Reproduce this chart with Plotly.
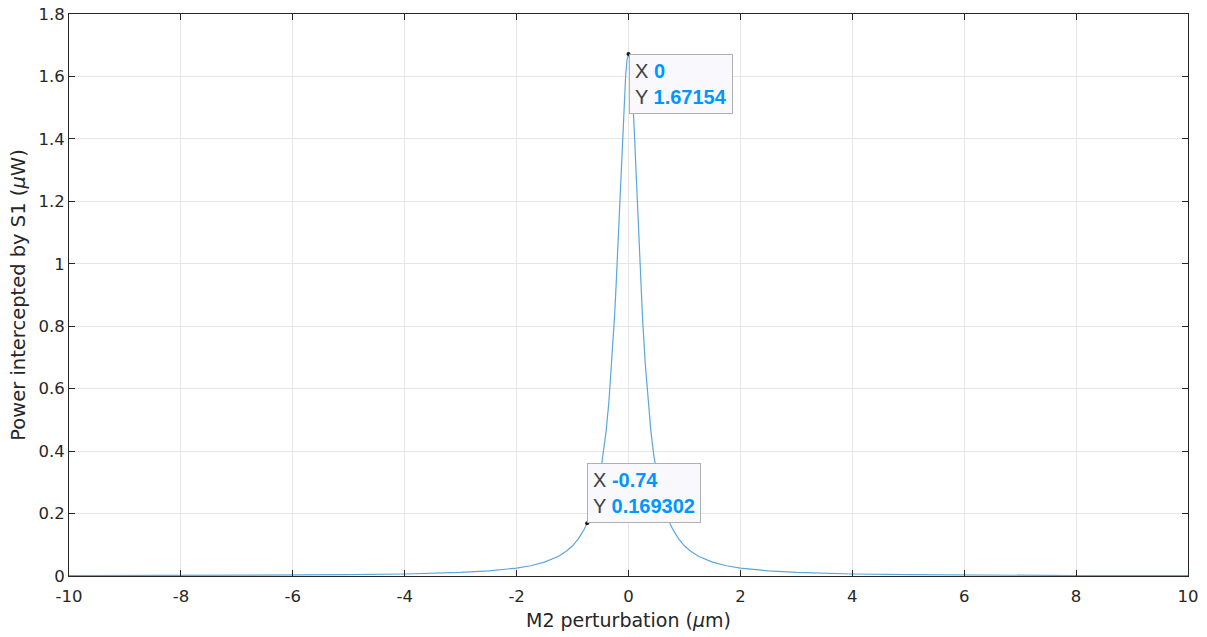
import plotly.graph_objects as go

# M2 perturbation (um) and power intercepted by S1 (uW)
x_vals = [-10, -8, -6, -5, -4, -3, -2.5, -2, -1.75, -1.5, -1.25, -1.1, -1.0, -0.9, -0.8, -0.74,
          -0.65, -0.6, -0.55, -0.5, -0.45, -0.4, -0.35, -0.3, -0.25, -0.225, -0.2, -0.175, -0.15,
          -0.125, -0.1, -0.075, -0.05, -0.025, 0,
          0.025, 0.05, 0.075, 0.1, 0.125, 0.15, 0.175, 0.2, 0.225, 0.25, 0.3, 0.35, 0.4, 0.45,
          0.5, 0.55, 0.6, 0.65, 0.74, 0.8, 0.9, 1.0, 1.1, 1.25, 1.5, 1.75, 2, 2.5, 3, 4, 5, 6, 8, 10]
y_vals = [0.00103, 0.0016, 0.00285, 0.0041, 0.0064, 0.01135, 0.0163, 0.0253, 0.0329, 0.0445, 0.0633,
          0.0809, 0.0968, 0.118, 0.1465, 0.169302,
          0.212, 0.244, 0.282, 0.330, 0.389, 0.464, 0.559, 0.679, 0.829, 0.917, 1.013, 1.116, 1.224,
          1.333, 1.438, 1.531, 1.606, 1.655, 1.67154,
          1.655, 1.606, 1.531, 1.438, 1.333, 1.224, 1.116, 1.013, 0.917, 0.829, 0.679, 0.559, 0.464,
          0.389, 0.330, 0.282, 0.244, 0.212, 0.1688, 0.1465, 0.118, 0.0968, 0.0809, 0.0633, 0.0445,
          0.0329, 0.0253, 0.0163, 0.01135, 0.0064, 0.0041, 0.00285, 0.0016, 0.00103]

# data tips
tip_x = [0, -0.74]
tip_y = [1.67154, 0.169302]
tip_xtext = ["0", "-0.74"]
tip_ytext = ["1.67154", "0.169302"]
tip_yanchor = ["top", "bottom"]

x_ticks = [-10, -8, -6, -4, -2, 0, 2, 4, 6, 8, 10]
x_ticktext = ["-10", "-8", "-6", "-4", "-2", "0", "2", "4", "6", "8", "10"]
y_ticks = [0, 0.2, 0.4, 0.6, 0.8, 1, 1.2, 1.4, 1.6, 1.8]
y_ticktext = ["0", "0.2", "0.4", "0.6", "0.8", "1", "1.2", "1.4", "1.6", "1.8"]

FONT = "Liberation Sans, Arial, Helvetica, sans-serif"
AXFONT = "DejaVu Sans, Verdana, sans-serif"
AX = "#262626"
BLUE_TXT = "rgb(0,150,255)"

fig = go.Figure()
fig.add_trace(go.Scatter(x=x_vals, y=y_vals, mode="lines",
                         line=dict(color="#5aa7db", width=1.2), hoverinfo="skip"))
fig.add_trace(go.Scatter(x=tip_x, y=tip_y, mode="markers",
                         marker=dict(color="#1a1a1a", size=4), hoverinfo="skip"))

for tx, ty, xt, yt, ya in zip(tip_x, tip_y, tip_xtext, tip_ytext, tip_yanchor):
    fig.add_annotation(
        x=tx, y=ty, xref="x", yref="y", showarrow=False,
        xanchor="left", yanchor=ya, align="left",
        text=(f"<span style='color:#404040'>X </span><b style='color:{BLUE_TXT}'>{xt}</b><br>"
              f"<span style='color:#404040'>Y </span><b style='color:{BLUE_TXT}'>{yt}</b>"),
        font=dict(family=FONT, size=20, color="#404040"),
        bgcolor="rgba(248,248,253,1)", bordercolor="#b0b0b0", borderwidth=1, borderpad=5,
    )

axis_common = dict(
    showline=True, linecolor=AX, linewidth=1, mirror="ticks", automargin=False,
    ticks="inside", ticklen=6, tickcolor=AX, tickwidth=1,
    showgrid=True, gridcolor="#e6e6e6", gridwidth=1, zeroline=False,
    tickfont=dict(family=AXFONT, size=16.5, color=AX),
)

fig.update_xaxes(range=[-10, 10], tickvals=x_ticks, ticktext=x_ticktext, ticklabelstandoff=5,
                 **axis_common,
                 title=dict(text="M2 perturbation (<i>μ</i>m)", font=dict(family=AXFONT, size=19, color=AX),
                            standoff=8))
fig.update_yaxes(range=[0, 1.8], tickvals=y_ticks, ticktext=y_ticktext, **axis_common,
                 title=dict(text="Power intercepted by S1 (<i>μ</i>W)", font=dict(family=AXFONT, size=19.5, color=AX),
                            standoff=7))

fig.update_layout(
    width=1207, height=637, showlegend=False,
    margin=dict(l=69, r=19, t=14, b=61, autoexpand=False),
    paper_bgcolor="white", plot_bgcolor="white",
)

fig.write_html("out.html")
